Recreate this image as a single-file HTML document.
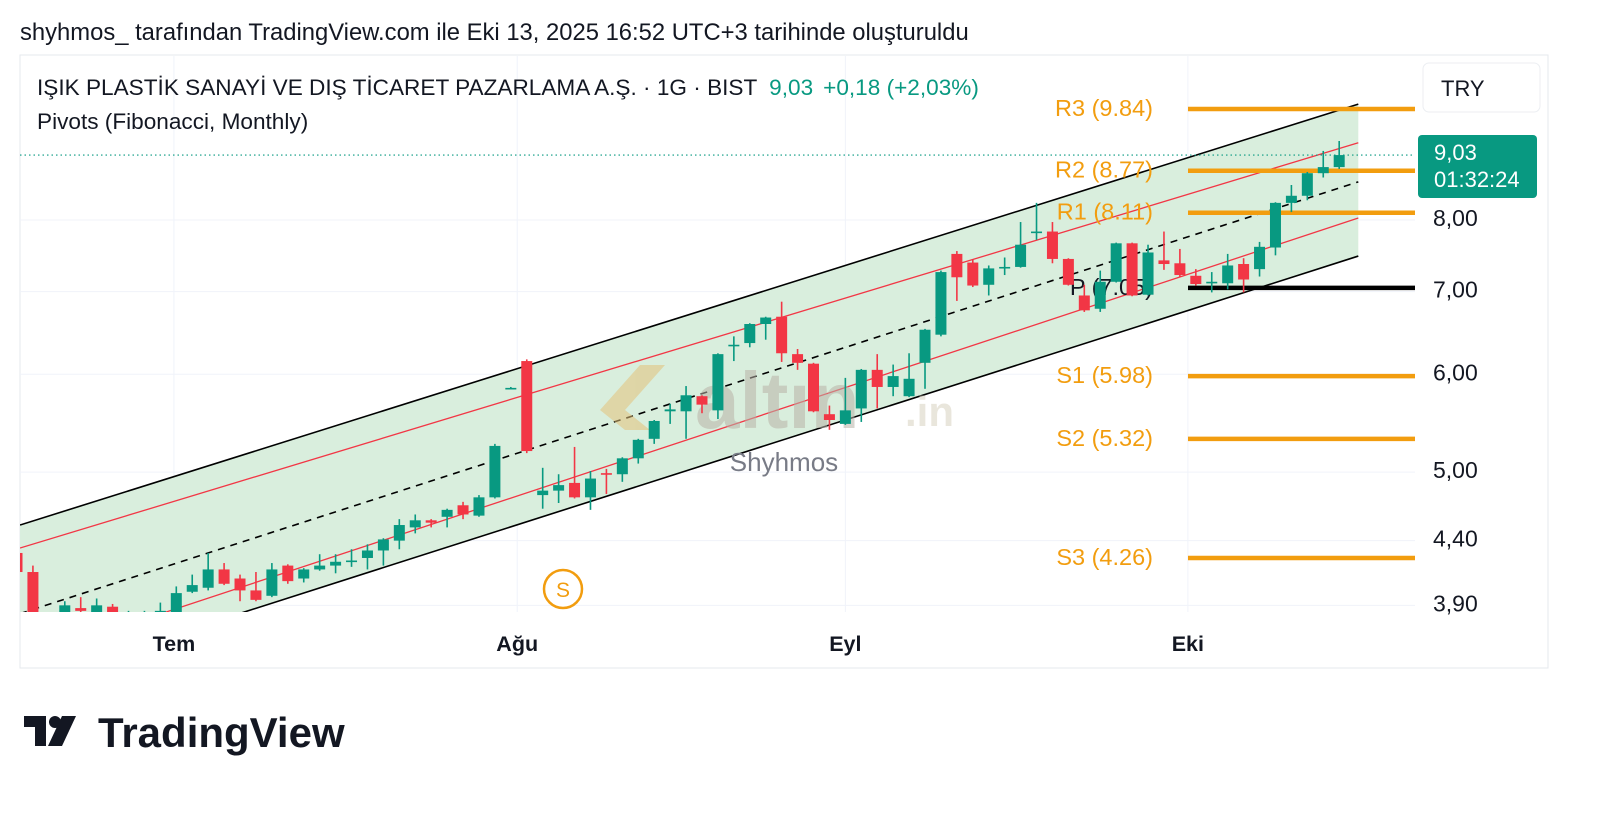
<!DOCTYPE html>
<html><head><meta charset="utf-8"><style>
body{margin:0;background:#fff;width:1600px;height:808px;overflow:hidden;font-family:"Liberation Sans","DejaVu Sans",sans-serif}
svg text{font-family:"Liberation Sans","DejaVu Sans",sans-serif}
</style></head><body>
<svg id="chart" width="1600" height="808" xmlns="http://www.w3.org/2000/svg">
<text x="20" y="40" font-size="23.8" fill="#131722">shyhmos_ tarafından TradingView.com ile Eki 13, 2025 16:52 UTC+3 tarihinde oluşturuldu</text>
<rect x="20" y="55" width="1528" height="613" fill="none" stroke="#e6e8ee" stroke-width="1"/>
<g id="grid"></g>
<defs><clipPath id="pc"><rect x="20" y="56" width="1395" height="556"/></clipPath></defs>
<g id="channel" clip-path="url(#pc)"></g>
<g id="watermark" opacity="0.55">
<polygon points="600,410 640,365 665,365 625,410 650,430 625,430" fill="#e3c27a"/>
<text x="695" y="428" font-size="80" font-weight="bold" fill="#b9b3a8">altın</text>
<text x="905" y="426" font-size="42" font-weight="bold" fill="#d8d2c0">.in</text>
</g>
<text x="784" y="471" font-size="26" fill="#787b86" text-anchor="middle">Shyhmos</text>
<g id="pivots"></g>
<g id="candles" clip-path="url(#pc)"></g>
<line id="lastline" x1="20" x2="1415" stroke="#089981" stroke-width="1.2" stroke-dasharray="1.5,3"/>
<g id="yaxis"></g>
<g id="xaxis"></g>
<rect x="1423" y="63" width="117" height="49" rx="6" fill="#fff" stroke="#eceef2"/>
<text x="1441" y="96" font-size="22" fill="#131722">TRY</text>
<g>
<rect x="1418" y="135" width="119" height="63" rx="4" fill="#089981"/>
<text x="1434" y="160" font-size="22" fill="#fff">9,03</text>
<text x="1434" y="187" font-size="22" fill="#fff">01:32:24</text>
</g>
<circle cx="563" cy="589" r="19" fill="#fff" stroke="#f29d0f" stroke-width="2.5"/>
<text x="563" y="597" font-size="21" fill="#f29d0f" text-anchor="middle">S</text>
<text x="37" y="95" font-size="22.6" fill="#131722">IŞIK PLASTİK SANAYİ VE DIŞ TİCARET PAZARLAMA A.Ş. · 1G · BIST <tspan fill="#089981" dx="6">9,03</tspan><tspan fill="#089981" dx="10">+0,18 (+2,03%)</tspan></text>
<text x="37" y="129" font-size="22.6" fill="#131722">Pivots (Fibonacci, Monthly)</text>
<g>
<rect x="24" y="716" width="22" height="11" fill="#131722"/><rect x="35" y="716" width="11" height="30" fill="#131722"/>
<circle cx="55" cy="722" r="6" fill="#131722"/><polygon points="62,716 76,716 62,746 48,746" fill="#131722"/>
<text x="98" y="747" font-size="42" font-weight="bold" fill="#131722">TradingView</text>
</g>
<script>
const opens=[4.30,4.15,3.75,3.82,3.88,3.84,3.89,3.80,3.80,3.85,3.85,4.00,4.03,4.17,4.10,4.01,3.97,4.20,4.10,4.17,4.20,4.23,4.26,4.32,4.40,4.51,4.57,4.60,4.70,4.61,4.77,5.85,6.15,4.79,4.83,4.90,4.77,4.99,4.98,5.13,5.32,5.60,5.60,5.76,5.61,6.33,6.36,6.59,6.68,6.23,6.12,5.57,5.47,5.63,6.05,5.86,5.76,6.13,6.46,7.51,7.39,7.09,7.32,7.33,7.82,7.83,7.44,6.95,6.78,7.13,7.66,6.96,7.42,7.38,7.21,7.12,7.11,7.37,7.30,7.60,8.26,8.37,8.73,8.83];
const highs=[4.32,4.20,3.85,3.93,3.96,3.95,3.91,3.86,3.86,3.92,4.04,4.13,4.30,4.22,4.13,4.15,4.22,4.21,4.18,4.29,4.29,4.33,4.37,4.42,4.58,4.62,4.58,4.67,4.73,4.79,5.27,5.86,6.17,5.04,4.98,5.24,5.01,5.03,5.14,5.32,5.51,5.68,5.87,5.77,6.24,6.44,6.60,6.68,6.87,6.29,6.13,5.66,5.96,6.06,6.23,6.11,6.24,6.53,7.28,7.55,7.43,7.35,7.46,7.97,8.26,7.97,7.45,7.09,7.28,7.67,7.67,7.64,7.83,7.58,7.30,7.26,7.51,7.45,7.68,8.27,8.54,8.75,9.10,9.27];
const lows=[4.12,3.78,3.72,3.78,3.80,3.80,3.80,3.76,3.77,3.80,3.82,3.99,4.01,4.05,3.93,3.93,3.96,4.06,4.07,4.16,4.14,4.19,4.17,4.20,4.33,4.46,4.51,4.51,4.58,4.60,4.76,5.84,5.18,4.67,4.72,4.76,4.66,4.80,4.91,5.08,5.27,5.47,5.32,5.58,5.52,6.15,6.31,6.40,6.14,6.05,5.59,5.41,5.46,5.49,5.63,5.76,5.75,5.84,6.44,6.88,7.06,6.95,7.22,7.32,7.71,7.38,7.08,6.74,6.74,7.12,6.94,6.95,7.29,7.20,7.08,6.99,7.03,6.99,7.20,7.49,8.12,8.30,8.66,8.80];
const closes=[4.15,3.80,3.80,3.90,3.86,3.90,3.83,3.84,3.82,3.86,3.99,4.05,4.17,4.06,4.01,3.94,4.17,4.08,4.17,4.20,4.23,4.24,4.32,4.41,4.53,4.57,4.55,4.66,4.62,4.77,5.25,5.85,5.20,4.83,4.88,4.77,4.94,4.98,5.13,5.31,5.50,5.62,5.77,5.67,6.23,6.34,6.59,6.67,6.24,6.13,5.60,5.51,5.61,6.05,5.86,5.98,5.95,6.52,7.26,7.19,7.08,7.31,7.33,7.64,7.83,7.44,7.09,6.76,7.13,7.66,6.95,7.53,7.37,7.22,7.10,7.13,7.35,7.16,7.61,8.26,8.37,8.73,8.83,9.03];
const priceTicks=[8.00,7.00,6.00,5.00,4.40,3.90];
const priceTickLabels=["8,00","7,00","6,00","5,00","4,40","3,90"];
const timeTickIdx=[9.85,31.4,52,73.5];
const timeTickLabels=["Tem","Ağu","Eyl","Eki"];
const pivotNames=["R3","R2","R1","P","S1","S2","S3"];
const pivotValues=[9.84,8.77,8.11,7.05,5.98,5.32,4.26];
const channelIdx=[0.19,84.2];
const upperBand=[4.53,9.93];
const upperMid=[4.34,9.24];
const centerLine=[3.84,8.59];
const lowerMid=[3.52,8.03];
const lowerBand=[3.37,7.48];
const lastPrice=9.03;

const NS="http://www.w3.org/2000/svg";
const xOf=i=>17+i*15.93;
const yOf=p=>109+(Math.log(9.84)-Math.log(p))*536.3;
function mk(tag,attrs,parent){const e=document.createElementNS(NS,tag);for(const k in attrs)e.setAttribute(k,attrs[k]);parent.appendChild(e);return e;}

const grid=document.getElementById('grid');
priceTicks.forEach((p,i)=>{const l=mk('line',{x1:20,x2:1415,y1:yOf(p),y2:yOf(p),stroke:'#f0f3fa','stroke-width':1},grid);

});
timeTickIdx.forEach((t,i)=>{const l=mk('line',{x1:xOf(t),x2:xOf(t),y1:56,y2:612,stroke:'#f0f3fa','stroke-width':1},grid);

});

const ch=document.getElementById('channel');
const xa=xOf(channelIdx[0]),xb=xOf(channelIdx[1]);
const fill=mk('polygon',{points:`${xa},${yOf(upperBand[0])} ${xb},${yOf(upperBand[1])} ${xb},${yOf(lowerBand[1])} ${xa},${yOf(lowerBand[0])}`,fill:'#d9eedd'},ch);


[[upperBand,'#000',1.6,'','channel-upper'],[upperMid,'#f23645',1.3,'','channel-upper-mid'],[centerLine,'#000',1.6,'7,6','channel-center'],[lowerMid,'#f23645',1.3,'','channel-lower-mid'],[lowerBand,'#000',1.6,'','channel-lower']].forEach(s=>{
const l=mk('line',{x1:xa,y1:yOf(s[0][0]),x2:xb,y2:yOf(s[0][1]),stroke:s[1],'stroke-width':s[2]},ch);
if(s[3])l.setAttribute('stroke-dasharray',s[3]);

});

const pv=document.getElementById('pivots');
pivotNames.forEach((n,i)=>{const y=yOf(pivotValues[i]);const isP=n==='P';
const l=mk('line',{x1:1188,x2:1415,y1:y,y2:y,stroke:isP?'#000':'#f29d0f','stroke-width':4.5},pv);


const t=mk('text',{x:1153,y:y+7,'font-size':23.5,fill:isP?'#131722':'#f29d0f','text-anchor':'end'},pv);
t.textContent=n+' ('+pivotValues[i].toFixed(2)+')';

});

const cg=document.getElementById('candles');
opens.forEach((o,i)=>{const c=closes[i];const col=c>=o?'#089981':'#f23645';const x=xOf(i);
const w=mk('line',{x1:x,x2:x,y1:yOf(highs[i]),y2:yOf(lows[i]),stroke:col,'stroke-width':1.6},cg);


const top=yOf(Math.max(o,c)),bot=yOf(Math.min(o,c));
const b=mk('rect',{x:x-5.5,y:top,width:11,height:Math.max(1.6,bot-top),fill:col},cg);

});

const ll=document.getElementById('lastline');ll.setAttribute('y1',yOf(lastPrice));ll.setAttribute('y2',yOf(lastPrice));

const ya=document.getElementById('yaxis');
priceTicks.forEach((p,i)=>{const t=mk('text',{x:1433,y:yOf(p)+6,'font-size':23,fill:'#131722'},ya);
t.textContent=priceTickLabels[i];

});
const xg=document.getElementById('xaxis');
timeTickIdx.forEach((t,i)=>{const e=mk('text',{x:xOf(t),y:651,'font-size':21.5,'font-weight':'bold',fill:'#131722','text-anchor':'middle'},xg);
e.textContent=timeTickLabels[i];

});
</script>
</svg>
</body></html>
